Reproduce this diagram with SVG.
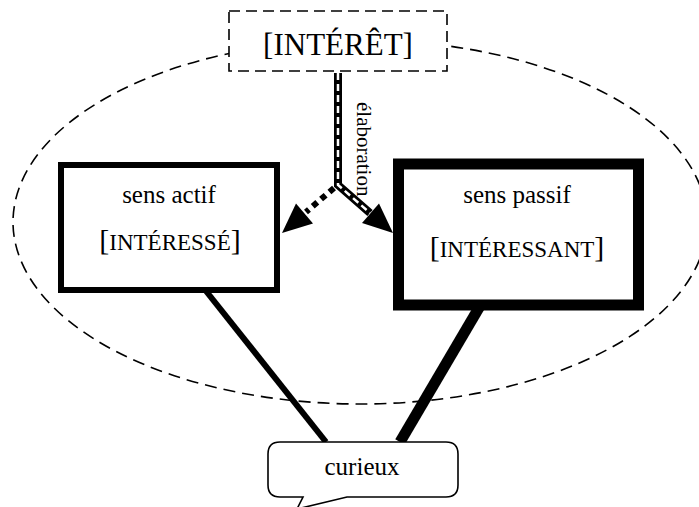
<svg xmlns="http://www.w3.org/2000/svg" width="699" height="507" viewBox="0 0 699 507">
<style>
text{font-family:"Liberation Serif","Times New Roman",serif;fill:#000}
.dash{fill:#fff;stroke:#000;stroke-width:1.6;stroke-dasharray:11 6}
.lbl{font-size:25px;text-anchor:middle}
.sc{font-size:23px;text-anchor:middle}
.br{font-size:30px}
</style>
<rect width="699" height="507" fill="#fff"/>
<ellipse id="scope" cx="360" cy="222" rx="347" ry="182" fill="none" stroke="#000" stroke-width="1.6" stroke-dasharray="12 7"/>
<g id="connectors">
  <line x1="206" y1="291" x2="326" y2="442" stroke="#000" stroke-width="6"/>
  <line x1="480" y1="306" x2="400" y2="442" stroke="#000" stroke-width="11"/>
  <polyline points="338,73 338,185 370,213" fill="none" stroke="#000" stroke-width="8" stroke-linejoin="miter"/>
  <polyline points="338,73 338,185 370,213" fill="none" stroke="#fff" stroke-width="2.5" stroke-dasharray="7 4" stroke-linejoin="miter"/>
  <polygon points="393,233 362,223 379,203.5" fill="#000"/>
  <line x1="334" y1="188" x2="306" y2="212" stroke="#000" stroke-width="6" stroke-dasharray="6 5"/>
  <polygon points="282,233 313,223.4 296,203.6" fill="#000"/>
  <text x="0" y="0" transform="translate(357,102) rotate(90)" font-size="21">élaboration</text>
</g>
<g id="interet">
  <rect class="dash" x="229" y="11" width="218" height="60"/>
  <text x="338" y="55" font-size="31" text-anchor="middle">[INTÉRÊT]</text>
</g>
<g id="sens-actif">
  <rect x="61" y="165" width="216" height="125" fill="#fff" stroke="#000" stroke-width="6"/>
  <text class="lbl" x="169" y="203">sens actif</text>
  <text class="sc" x="170" y="250"><tspan class="br">[</tspan>INTÉRESSÉ<tspan class="br">]</tspan></text>
</g>
<g id="sens-passif">
  <rect x="398.5" y="164" width="240" height="141" fill="#fff" stroke="#000" stroke-width="11"/>
  <text class="lbl" x="517" y="203">sens passif</text>
  <text class="sc" x="517" y="257"><tspan class="br">[</tspan>INTÉRESSANT<tspan class="br">]</tspan></text>
</g>
<g id="curieux">
  <path d="M280,442 H446 Q458,442 458,454 V485 Q458,497 446,497 H347 L297,509 L303,497 H280 Q268,497 268,485 V454 Q268,442 280,442 Z" fill="#fff" stroke="#000" stroke-width="1.6"/>
  <text class="lbl" x="362" y="475" font-size="26">curieux</text>
</g>
</svg>
